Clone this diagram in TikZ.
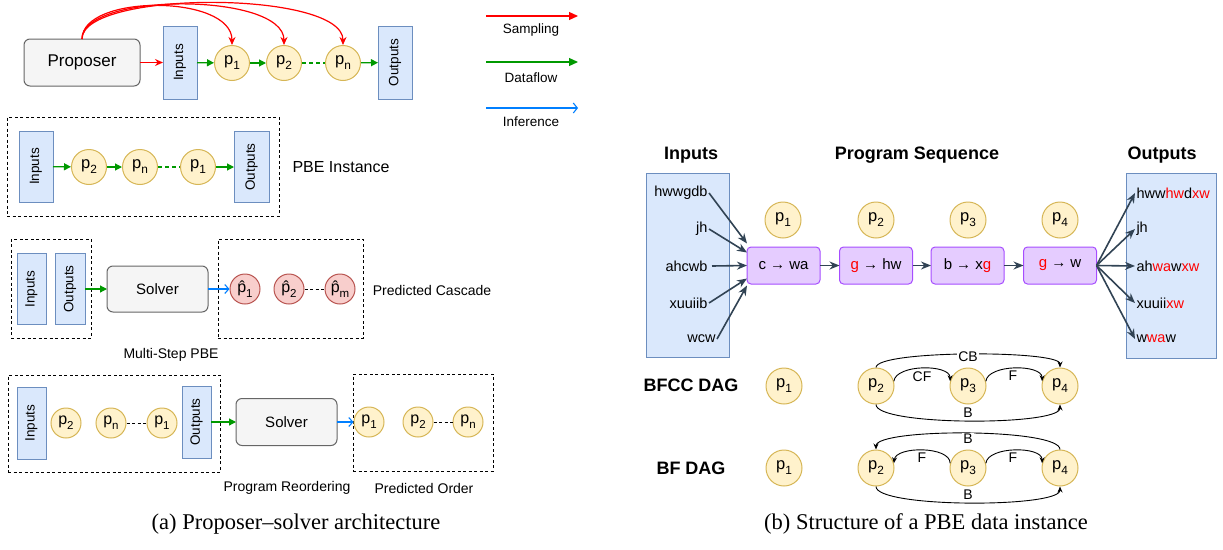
\documentclass[tikz,border=0pt]{standalone}
\usepackage{fontspec}
\usepackage{graphicx}
\setmainfont{Liberation Sans}
\newfontfamily\capfont[Ligatures=TeX]{Liberation Serif}
\usetikzlibrary{arrows.meta}
\definecolor{inb}{HTML}{DAE8FC}\definecolor{inbd}{HTML}{6C8EBF}
\definecolor{yel}{HTML}{FFF2CC}\definecolor{yeld}{HTML}{D6B656}
\definecolor{redf}{HTML}{F8CECC}\definecolor{redd}{HTML}{B85450}
\definecolor{grayf}{HTML}{F5F5F5}\definecolor{grayd}{HTML}{666666}
\definecolor{purf}{HTML}{E5CCFF}\definecolor{purd}{HTML}{A64DFF}
\definecolor{sampc}{HTML}{FF0000}\definecolor{flowc}{HTML}{009900}\definecolor{infc}{HTML}{007FFF}
\definecolor{slate}{HTML}{314354}
\newcommand\fs[1]{\fontsize{#1}{#1}\selectfont}
\newcommand\pv[1]{p\raisebox{-0.3em}{\scalebox{0.72}{#1}}}
\newcommand\ph[1]{\^{p}\raisebox{-0.3em}{\scalebox{0.72}{#1}}}
\newcommand\rd[1]{\textcolor{sampc}{#1}}
\begin{document}
\begin{tikzpicture}[x=1pt,y=-1pt,line width=1pt,
  inbox/.style={draw=inbd,fill=inb,inner sep=0,outer sep=0,font=\fs{13.5}},
  pc/.style={circle,draw=yeld,fill=yel,minimum size=35,inner sep=0,font=\fs{16.5}},
  pcs/.style={circle,draw=yeld,fill=yel,minimum size=30,inner sep=0,font=\fs{16}},
  hc/.style={circle,draw=redd,fill=redf,minimum size=30,inner sep=0,font=\fs{16}},
  solverbox/.style={draw=grayd,fill=grayf,rounded corners=6,inner sep=0,outer sep=0},
  dbox/.style={draw=black,dash pattern=on 3pt off 2.5pt,inner sep=0,minimum width=#1},
  sa/.style={draw=sampc,line width=1.2pt,-{Stealth[length=8pt,width=7pt]}},
  fl/.style={draw=flowc,line width=1.2pt,-{Triangle[length=7pt,width=7pt]}},
  inf/.style={draw=infc,line width=1.1pt,-{Straight Barb[length=4pt,width=9pt]}},
  sl/.style={draw=slate,line width=1.6pt,-{Stealth[length=10pt,width=8pt]}},
  dag/.style={draw=black,line width=0.9pt,-{Stealth[length=6pt,width=5pt]}},
  lbl/.style={font=\fs{14},inner sep=1},
  pbox/.style={draw=purd,fill=purf,rounded corners=4,minimum width=73,minimum height=37,inner sep=0,outer sep=0,font=\fs{15}},
  bt/.style={font=\bfseries\fs{18}},
  io/.style={font=\fs{14.5},inner sep=1},
  dl/.style={font=\fs{14},inner sep=1}]
\useasboundingbox (0,0) rectangle (1223,549);

% ---------- panel (a), row 1
\node[solverbox,minimum width=116,minimum height=47,font=\fs{17}] (prop) at (82,62.5) {Proposer};
\node[inbox,minimum width=34,minimum height=73] (in1) at (180,62.5) {\rotatebox{90}{Inputs}};
\node[pc] (a1) at (232,63) {\pv1};
\node[pc] (a2) at (284,63) {\pv2};
\node[pc] (an) at (343,63) {\pv{n}};
\node[inbox,minimum width=34,minimum height=73] (out1) at (395,62.5) {\rotatebox{90}{Outputs}};
\draw[sa] (prop) -- (in1);
\draw[fl] (in1) -- (a1);
\draw[fl] (a1) -- (a2);
\draw[draw=flowc,line width=1.2pt,dash pattern=on 4pt off 3pt] (a2) -- (an);
\draw[fl] (an) -- (out1);
\draw[sa] (prop.north) .. controls (82,-6) and (232,-6) .. (a1.north);
\draw[sa] (prop.north) .. controls (82,-8) and (284,-8) .. (a2.north);
\draw[sa] (prop.north) .. controls (82,-10) and (343,-10) .. (an.north);

% legend
\coordinate (l1s) at (486,16); \coordinate (l1e) at (578,16);
\coordinate (l2s) at (486,62); \coordinate (l2e) at (578,62);
\coordinate (l3s) at (486,108); \coordinate (l3e) at (578,108);
\draw[sa,-{Triangle[length=9pt,width=8pt]}] (l1s) -- (l1e);
\draw[fl,-{Triangle[length=9pt,width=8pt]}] (l2s) -- (l2e);
\draw[inf,-{Straight Barb[length=4pt,width=10pt]}] (l3s) -- (l3e);
\node[font=\fs{13.5}] (t1) at (531,30) {Sampling};
\node[font=\fs{13.5}] (t2) at (531,78) {Dataflow};
\node[font=\fs{13.5}] (t3) at (531,122) {Inference};

% ---------- row 2
\node[dbox=272,minimum height=99] (r2) at (143,166.5) {};
\node[inbox,minimum width=34,minimum height=71] (in2) at (36,166.5) {\rotatebox{90}{Inputs}};
\node[pc] (b2) at (89,167) {\pv2};
\node[pc] (bn) at (140,167) {\pv{n}};
\node[pc] (b1) at (198,167) {\pv1};
\node[inbox,minimum width=35,minimum height=71] (out2) at (251.5,167) {\rotatebox{90}{Outputs}};
\draw[fl] (in2) -- (b2);
\draw[fl] (b2) -- (bn);
\draw[draw=flowc,line width=1.2pt,dash pattern=on 4pt off 3pt] (bn) -- (b1);
\draw[fl] (b1) -- (out2);
\node[font=\fs{16}] (pbe) at (341,167) {PBE Instance};

% ---------- row 3
\node[dbox=80,minimum height=99] (r3a) at (51,288.5) {};
\node[inbox,minimum width=29,minimum height=71] (in3) at (31.5,289) {\rotatebox{90}{Inputs}};
\node[inbox,minimum width=30,minimum height=71] (out3) at (70,289) {\rotatebox{90}{Outputs}};
\node[solverbox,minimum width=101,minimum height=46,font=\fs{15}] (sol1) at (157.5,289) {Solver};
\node[dbox=145,minimum height=99] (r3b) at (290.5,288.5) {};
\node[hc] (h1) at (245,289) {\ph1};
\node[hc] (h2) at (289,289) {\ph2};
\node[hc] (hm) at (340,289) {\ph{m}};
\draw[fl] (out3) -- (sol1);
\draw[inf] (sol1) -- (h1);
\draw[draw=black,dash pattern=on 3pt off 2.5pt] (h2) -- (hm);
\node[lbl] (pc1) at (432,290) {Predicted Cascade};
\node[lbl] (msp) at (171,355) {Multi-Step PBE};

% ---------- row 4
\node[dbox=212,minimum height=97] (r4a) at (114,423.5) {};
\node[inbox,minimum width=29,minimum height=72] (in4) at (31.5,423) {\rotatebox{90}{Inputs}};
\node[pcs] (c2) at (66,423) {\pv2};
\node[pcs] (cn) at (111,423) {\pv{n}};
\node[pcs] (c1) at (162,423) {\pv1};
\node[inbox,minimum width=29,minimum height=72] (out4) at (196.5,422) {\rotatebox{90}{Outputs}};
\draw[draw=black,dash pattern=on 3pt off 2.5pt] (cn) -- (c1);
\node[solverbox,minimum width=101,minimum height=47,font=\fs{15}] (sol2) at (286.5,422) {Solver};
\node[dbox=140,minimum height=97] (r4b) at (423,422.5) {};
\node[pcs] (d1) at (369,422) {\pv1};
\node[pcs] (d2) at (418,422) {\pv2};
\node[pcs] (dn) at (468,422) {\pv{n}};
\draw[draw=black,dash pattern=on 3pt off 2.5pt] (d2) -- (dn);
\draw[fl] (out4) -- (sol2);
\draw[inf] (sol2) -- (d1);
\node[lbl] (pr) at (287,488) {Program Reordering};
\node[lbl] (po) at (424,488) {Predicted Order};

% captions
\node[font=\capfont\fs{22.5}] (capa) at (296,524) {(a) Proposer–solver architecture};
\node[font=\capfont\fs{22.5}] (capb) at (926,524) {(b) Structure of a PBE data instance};

% ---------- panel (b)
\node[bt] (tin) at (691,155) {Inputs};
\node[bt] (tps) at (917,155) {Program Sequence};
\node[bt] (tout) at (1162,155) {Outputs};
\node[inbox,minimum width=83,minimum height=184] (bin) at (687.5,265) {};
\node[inbox,minimum width=90,minimum height=185] (bout) at (1171,265.5) {};

\node[pbox] (q1) at (783.5,265.5) {c → wa};
\node[pbox] (q2) at (876,265.5) {\rd{g} → hw};
\node[pbox] (q3) at (967.5,265.5) {b → x\rd{g}};
\node[pbox] (q4) at (1060,265.5) {\rd{g} → w};
\node[pc,minimum size=36] (s1) at (783,220) {\pv1};
\node[pc,minimum size=36] (s2) at (876,220) {\pv2};
\node[pc,minimum size=36] (s3) at (968,220) {\pv3};
\node[pc,minimum size=36] (s4) at (1060,220) {\pv4};
\draw[sl] (q1) -- (q2);
\draw[sl] (q2) -- (q3);
\draw[sl] (q3) -- (q4);

\node[io,anchor=east] (i1) at (709,193) {hwwgdb};
\node[io,anchor=east] (i2) at (709,229) {jh};
\node[io,anchor=east] (i3) at (709,266) {ahcwb};
\node[io,anchor=east] (i4) at (709,303) {xuuiib};
\node[io,anchor=east] (i5) at (717,339) {wcw};
\draw[sl] (i1.east) -- ([yshift=22pt]q1.west);
\draw[sl] (i2.east) -- ([yshift=13pt]q1.west);
\draw[sl] ([xshift=3pt]i3.east) -- (q1.west);
\draw[sl] (i4.east) -- ([yshift=-13pt]q1.west);
\draw[sl] (i5.east) -- ([yshift=-20pt]q1.west);

\node[io,anchor=west] (o1) at (1135,193) {hww\rd{hw}d\rd{xw}};
\node[io,anchor=west] (o2) at (1135,229) {jh};
\node[io,anchor=west] (o3) at (1135,266) {ah\rd{wa}w\rd{xw}};
\node[io,anchor=west] (o4) at (1135,303) {xuuii\rd{xw}};
\node[io,anchor=west] (o5) at (1135,339) {w\rd{wa}w};
\draw[sl] (q4.east) -- (o1.west);
\draw[sl] (q4.east) -- (o2.west);
\draw[sl] (q4.east) -- (o3.west);
\draw[sl] (q4.east) -- (o4.west);
\draw[sl] (q4.east) -- (o5.west);

% BFCC DAG
\node[bt] (bfcc) at (691,385) {BFCC DAG};
\node[pc,minimum size=36] (e1) at (784,386) {\pv1};
\node[pc,minimum size=36] (e2) at (876,386) {\pv2};
\node[pc,minimum size=36] (e3) at (968,386) {\pv3};
\node[pc,minimum size=36] (e4) at (1060,386) {\pv4};
\draw[dag] (e2.north) .. controls (876,350) and (1060,350) .. (e4.north);
\node[dl,fill=white] (lcb) at (968,357) {CB};
\draw[dag] (e2.15) .. controls (896,364) and (950,364) .. (e3.165);
\node[dl] (lcf) at (922,377) {CF};
\draw[dag] (e3.15) .. controls (988,364) and (1042,364) .. (e4.165);
\node[dl] (lf1) at (1013,376) {F};
\draw[dag] (e2.south) .. controls (876,426) and (1060,426) .. (e4.south);
\node[dl] (lb1) at (968,413) {B};

% BF DAG
\node[bt] (bf) at (691,468) {BF DAG};
\node[pc,minimum size=36] (f1) at (784,468) {\pv1};
\node[pc,minimum size=36] (f2) at (876,468) {\pv2};
\node[pc,minimum size=36] (f3) at (968,468) {\pv3};
\node[pc,minimum size=36] (f4) at (1060,468) {\pv4};
\draw[dag] (f4.north) .. controls (1060,428) and (876,428) .. (f2.north);
\node[dl,fill=white] (lb2) at (968,439) {B};
\draw[dag] (f3.165) .. controls (950,446) and (896,446) .. (f2.15);
\node[dl] (lf2) at (922,458) {F};
\draw[dag] (f3.15) .. controls (988,446) and (1042,446) .. (f4.165);
\node[dl] (lf3) at (1013,458) {F};
\draw[dag] (f2.south) .. controls (876,508) and (1060,508) .. (f4.south);
\node[dl] (lb3) at (968,495) {B};
\end{tikzpicture}
\end{document}
